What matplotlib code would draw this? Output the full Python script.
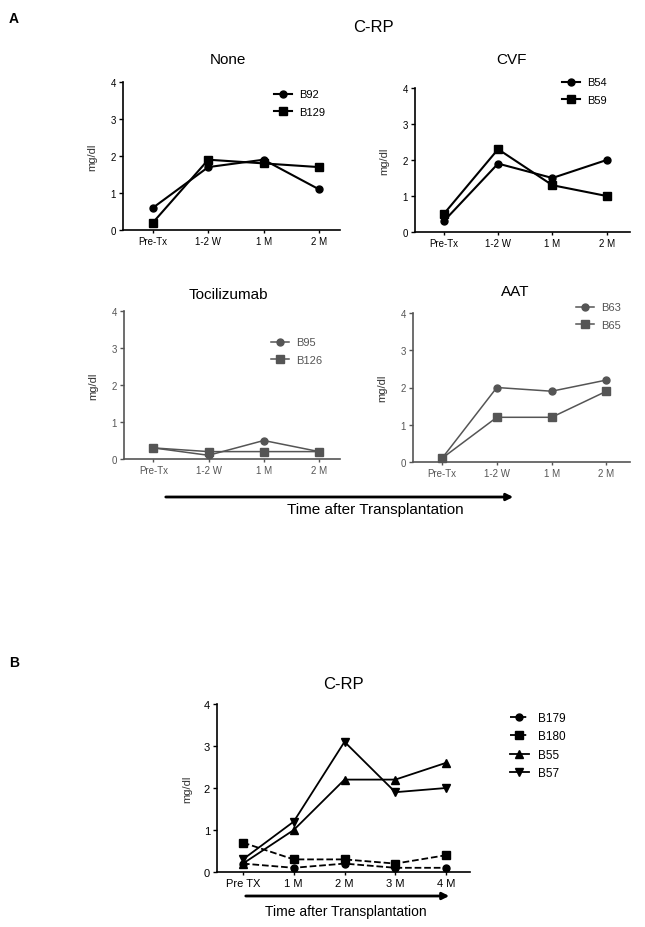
import matplotlib.pyplot as plt

plt.rcParams['font.family'] = ['Liberation Sans', 'DejaVu Sans']

W, H = 645, 928

# panel A data
times_a = ['Pre-Tx', '1-2 W', '1 M', '2 M']
none_b92 = [0.6, 1.7, 1.9, 1.1]
none_b129 = [0.2, 1.9, 1.8, 1.7]
cvf_b54 = [0.3, 1.9, 1.5, 2.0]
cvf_b59 = [0.5, 2.3, 1.3, 1.0]
toci_b95 = [0.3, 0.1, 0.5, 0.2]
toci_b126 = [0.3, 0.2, 0.2, 0.2]
aat_b63 = [0.1, 2.0, 1.9, 2.2]
aat_b65 = [0.1, 1.2, 1.2, 1.9]

# panel B data
times_b = ['Pre TX', '1 M', '2 M', '3 M', '4 M']
b179 = [0.2, 0.1, 0.2, 0.1, 0.1]
b180 = [0.7, 0.3, 0.3, 0.2, 0.4]
b55 = [0.2, 1.0, 2.2, 2.2, 2.6]
b57 = [0.3, 1.2, 3.1, 1.9, 2.0]

fig = plt.figure(figsize=(W / 100, H / 100), dpi=100)


def px_axes(left, right, top, bottom):
    # axes from pixel box
    return fig.add_axes([left / W, 1 - bottom / H, (right - left) / W, (bottom - top) / H])


def style(ax, labels, xlim, color):
    ax.set_ylim(0, 4)
    ax.set_xlim(*xlim)
    ax.set_yticks([0, 1, 2, 3, 4])
    ax.set_xticks(range(len(labels)))
    ax.set_xticklabels(labels)
    for s in ['top', 'right']:
        ax.spines[s].set_visible(False)
    for s in ['left', 'bottom']:
        ax.spines[s].set_color(color)
        ax.spines[s].set_linewidth(1.2)
    ax.tick_params(axis='both', labelsize=7, colors=color, length=3, width=1, pad=2)
    ax.tick_params(axis='x', length=2)
    ax.set_ylabel('mg/dl', fontsize=8, color='#333333', labelpad=10)


def text_px(x, y, s, **kw):
    fig.text(x / W, 1 - y / H, s, ha='center', va='center', **kw)


def arrow_px(x0, x1, y):
    fig.add_artist(plt.Annotation('', xy=(x1 / W, 1 - y / H), xytext=(x0 / W, 1 - y / H),
                                  xycoords='figure fraction', textcoords='figure fraction',
                                  arrowprops=dict(arrowstyle='-|>', color='black', lw=2,
                                                  mutation_scale=10)))


panels = [
    ((123, 340, 83, 231), (-0.54, 3.38), 'None', (228, 60), 'black',
     [('B92', none_b92, 'o'), ('B129', none_b129, 's')], (300, 94)),
    ((415, 630, 89, 233), (-0.53, 3.43), 'CVF', (511, 60), 'black',
     [('B54', cvf_b54, 'o'), ('B59', cvf_b59, 's')], (588, 82)),
    ((124, 340, 312, 460), (-0.53, 3.38), 'Tocilizumab', (228, 295), '#555555',
     [('B95', toci_b95, 'o'), ('B126', toci_b126, 's')], (297, 342)),
    ((413, 630, 314, 463), (-0.53, 3.43), 'AAT', (515, 292), '#555555',
     [('B63', aat_b63, 'o'), ('B65', aat_b65, 's')], (602, 307)),
]

for box, xlim, title, tpos, color, series, lpos in panels:
    ax = px_axes(*box)
    lw = 1.5 if color == 'black' else 1.1
    handles = []
    for name, vals, mk in series:
        h, = ax.plot(range(len(vals)), vals, color=color, lw=lw, marker=mk,
                     markersize=5.5 if mk == 's' else 5, label=name, clip_on=False)
        handles.append(h)
    style(ax, times_a, xlim, color)
    text_px(tpos[0], tpos[1], title, fontsize=11)
    ax.legend(handles=handles, loc='upper left', frameon=False, fontsize=8,
              bbox_to_anchor=((lpos[0] - 30) / W, 1 - (lpos[1] - 8) / H),
              bbox_transform=fig.transFigure, handlelength=1.6, handletextpad=0.6,
              labelspacing=0.65, borderaxespad=0, labelcolor=color)

text_px(14, 19, 'A', fontsize=10, fontweight='bold')
text_px(373, 28, 'C-RP', fontsize=12)
arrow_px(163, 516, 498)
text_px(375, 510, 'Time after Transplantation', fontsize=11)

# panel B
axb = px_axes(217, 470, 705, 873)
hb = []
for name, vals, mk, ls, ms in [('B179', b179, 'o', '--', 5), ('B180', b180, 's', '--', 5.5),
                               ('B55', b55, '^', '-', 6), ('B57', b57, 'v', '-', 6)]:
    h, = axb.plot(range(len(vals)), vals, color='black', lw=1.3, ls=ls, marker=mk,
                  markersize=ms, label=name, clip_on=False)
    hb.append(h)
style(axb, times_b, (-0.51, 4.47), 'black')
axb.tick_params(axis='x', labelsize=8)
axb.tick_params(axis='y', labelsize=8)
axb.set_ylabel('mg/dl', fontsize=8, color='#333333', labelpad=8)
axb.legend(handles=hb, loc='upper left', frameon=False, fontsize=8.5,
           bbox_to_anchor=(505 / W, 1 - 708 / H), bbox_transform=fig.transFigure,
           handlelength=1.6, handletextpad=0.8, labelspacing=0.55, borderaxespad=0)

text_px(14, 663, 'B', fontsize=10, fontweight='bold')
text_px(343, 685, 'C-RP', fontsize=12)
arrow_px(243, 452, 897)
text_px(346, 912, 'Time after Transplantation', fontsize=10)

fig.savefig('out.png', dpi=100)
